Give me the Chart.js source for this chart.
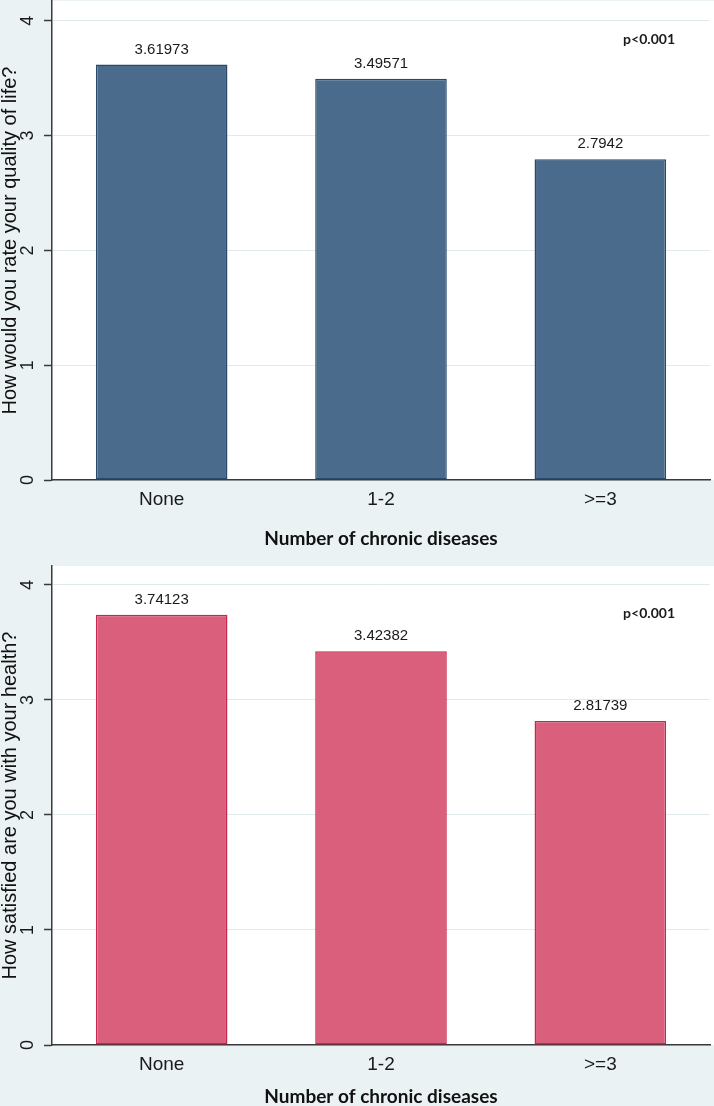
<!DOCTYPE html>
<html>
<head>
<meta charset="utf-8">
<script src="https://cdn.jsdelivr.net/npm/chart.js@4.4.1/dist/chart.umd.min.js"></script>
<style>
    html, body { margin: 0; padding: 0; background: #eaf2f3; }
    body { width: 714px; height: 1106px; position: relative; overflow: hidden; }
    canvas { position: absolute; left: 0; display: block; }
    #qolChart { top: 0; }
    #healthChart { top: 563px; }
</style>
</head>
<body>
<canvas id="qolChart" width="714" height="563"></canvas>
<canvas id="healthChart" width="714" height="543"></canvas>
<script>
const categories = ['None', '1-2', '>=3'];
const qolValues = [3.61973, 3.49571, 2.7942];
const healthValues = [3.74123, 3.42382, 2.81739];
const yTicks = [0, 1, 2, 3, 4];
const xTitle = 'Number of chronic diseases';
const qolTitle = 'How would you rate your quality of life?';
const healthTitle = 'How satisfied are you with your health?';
const pLabel = 'p<0.001';

const AXIS = '#3a3a3a';
const TEXT = '#1a1a1a';

// white plot region, stata-style (runs to the right edge)
const plotBackground = {
    id: 'plotBackground',
    beforeDraw(chart) {
        const { ctx, chartArea: a } = chart;
        ctx.save();
        ctx.fillStyle = '#ffffff';
        ctx.fillRect(a.left, a.top, chart.width - a.left, a.bottom - a.top);
        ctx.restore();
    },
};

// value above each bar + the p-value note
const barNotes = {
    id: 'barNotes',
    afterDatasetsDraw(chart, args, opts) {
        const { ctx, chartArea: a } = chart;
        const ds = chart.data.datasets[0];
        const meta = chart.getDatasetMeta(0);
        ctx.save();
        ctx.fillStyle = TEXT;
        ctx.font = '15px "Liberation Sans", Arial, sans-serif';
        ctx.textAlign = 'center';
        ctx.textBaseline = 'middle';
        meta.data.forEach((bar, i) => {
            ctx.fillText(String(ds.data[i]), bar.x, bar.y - 15);
        });
        ctx.font = 'bold 14px Lato, sans-serif';
        ctx.textAlign = 'right';
        ctx.fillText(pLabel, a.right - 35, chart.scales.y.getPixelForValue(opts.pAt));
        ctx.restore();
    },
};

const buildChart = (id, values, yTitle, cfg) => {
    const canvas = document.getElementById(id);
    return new Chart(canvas, {
        type: 'bar',
        data: {
            labels: categories,
            datasets: [
                {
                    data: values,
                    backgroundColor: cfg.fill,
                    borderColor: cfg.border,
                    borderWidth: 1.5,
                    borderSkipped: false,
                    categoryPercentage: 0.6,
                    barPercentage: 1.0,
                },
            ],
        },
        options: {
            responsive: false,
            animation: false,
            devicePixelRatio: 1,
            layout: { padding: { top: cfg.padTop, right: 4, left: 0, bottom: 0 } },
            plugins: {
                legend: { display: false },
                tooltip: { enabled: false },
                barNotes: { pAt: cfg.pAt },
            },
            scales: {
                x: {
                    grid: { display: false, drawTicks: false },
                    border: { display: true, color: AXIS, width: 1.5 },
                    ticks: {
                        color: TEXT,
                        padding: 8,
                        font: { family: '"Liberation Sans", Arial, sans-serif', size: 19 },
                    },
                    title: {
                        display: true,
                        text: xTitle,
                        color: '#111',
                        font: { family: 'Lato, sans-serif', weight: 'bold', size: 19, lineHeight: 1 },
                        padding: { top: 0, bottom: cfg.titlePad },
                    },
                    afterFit: (s) => {
                        s.height = cfg.xHeight;
                        s.paddingLeft = 0;
                        s.paddingRight = 0;
                    },
                },
                y: {
                    min: 0,
                    max: cfg.yMax,
                    afterBuildTicks: (s) => {
                        s.ticks = yTicks.map((v) => ({ value: v }));
                    },
                    grid: {
                        color: '#dfeaec',
                        lineWidth: 1,
                        drawTicks: true,
                        tickLength: 8,
                        tickColor: AXIS,
                        tickWidth: 1.5,
                    },
                    border: { display: true, color: AXIS, width: 1.5 },
                    ticks: {
                        minRotation: 90,
                        maxRotation: 90,
                        crossAlign: 'center',
                        padding: 11,
                        color: TEXT,
                        font: { family: '"Liberation Sans", Arial, sans-serif', size: 18 },
                    },
                    title: {
                        display: true,
                        text: yTitle,
                        color: '#111',
                        font: { family: '"Liberation Sans", Arial, sans-serif', size: 20, lineHeight: 1 },
                        padding: { top: 0, bottom: 0 },
                    },
                    afterFit: (s) => {
                        s.width = 52;
                        s.paddingTop = 0;
                        s.paddingBottom = 0;
                    },
                },
            },
        },
        plugins: [plotBackground, barNotes],
    });
};

buildChart('qolChart', qolValues, qolTitle, {
    fill: '#4a6b8c',
    border: '#2b4a6b',
    padTop: 1,
    yMax: 4.172,
    xHeight: 83,
    titlePad: 14.5,
    pAt: 3.84,
});

buildChart('healthChart', healthValues, healthTitle, {
    fill: '#d95f7d',
    border: '#c8264c',
    padTop: 3,
    yMax: 4.165,
    xHeight: 61,
    titlePad: 0,
    pAt: 3.75,
});
</script>
</body>
</html>
